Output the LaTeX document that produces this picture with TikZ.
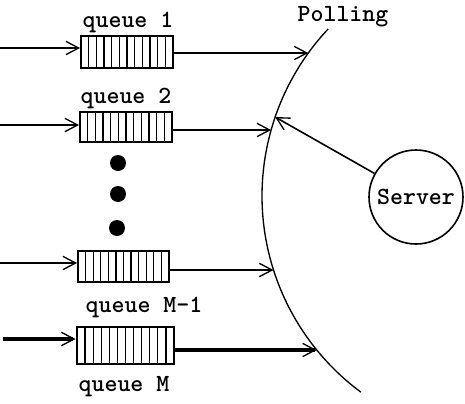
\documentclass[tikz,border=0pt]{standalone}
\usetikzlibrary{arrows.meta,calc}
\begin{document}
\begin{tikzpicture}[x=0.75pt,y=-0.75pt,
  lbl/.style={font=\fontsize{18.5}{21}\selectfont\ttfamily\bfseries, inner sep=0pt},
  qbox/.style={draw, line width=1.5pt, inner sep=0pt,
    path picture={\foreach \i in {1,...,11}{
      \draw[line width=0.9pt] ($(path picture bounding box.south west)!\i/12!(path picture bounding box.south east)$) --
        ($(path picture bounding box.north west)!\i/12!(path picture bounding box.north east)$);}}},
  tip/.style={-{Straight Barb[length=9.5pt,width=10pt,line width=1pt]}},
  feed/.style={line width=1.9pt},
  heavy/.style={line width=3.6pt},
  dot/.style={circle, fill=black, minimum size=12pt, inner sep=0pt}]
\useasboundingbox (0,0) rectangle (465,404);

% polling arc
\coordinate (c) at (506,196);
\draw[line width=1pt] ([shift={(c)}]223.2:244) arc[start angle=223.2, end angle=126.5, radius=244];

% arc targets
\coordinate (p1) at (308.3,53);
\coordinate (p2) at (271.1,130);
\coordinate (p3) at (273.5,270);
\coordinate (p4) at (316.7,350);
\coordinate (ps) at (275.1,117);

% queues
\node[qbox, minimum width=92*0.75pt, minimum height=32*0.75pt] (q1) at (127,52) {};
\node[qbox, minimum width=92*0.75pt, minimum height=30*0.75pt] (q2) at (126,127) {};
\node[qbox, minimum width=91*0.75pt, minimum height=31*0.75pt] (q3) at (123.5,266.5) {};
\node[qbox, line width=2.2pt, minimum width=97*0.75pt, minimum height=37*0.75pt] (q4) at (125.5,345.5) {};

% labels
\node[lbl] (l1) at (128,22) {queue 1};
\node[lbl] (l2) at (126,98) {queue 2};
\node[lbl] (l3) at (144,307) {queue M-1};
\node[lbl] (l4) at (124,387) {queue M};
\node[lbl] (poll) at (343,17) {Polling};

% dots
\node[dot] (d1) at (118,163) {};
\node[dot] (d2) at (118,194) {};
\node[dot] (d3) at (117,228) {};

% inputs
\coordinate (i1) at (0,48);
\coordinate (i2) at (0,125);
\coordinate (i3) at (0,263);
\coordinate (i4) at (3,339);
\draw[feed,tip] (i1) -- (i1 -| q1.west);
\draw[feed,tip] (i2) -- (i2 -| q2.west);
\draw[feed,tip] (i3) -- (i3 -| q3.west);
\draw[heavy,tip] (i4) -- (i4 -| q4.west);

% outputs
\draw[feed,tip] (q1.east |- p1) -- (p1);
\draw[feed,tip] (q2.east |- p2) -- (p2);
\draw[feed,tip] (q3.east |- p3) -- (p3);
\draw[heavy,tip] (q4.east |- p4) -- (p4);

% server
\node[draw, circle, line width=1.2pt, minimum size=94*0.75pt, inner sep=0pt, lbl] (srv) at (416,197) {Server};
\draw[line width=1.2pt,tip] (srv) -- (ps);
\end{tikzpicture}
\end{document}
